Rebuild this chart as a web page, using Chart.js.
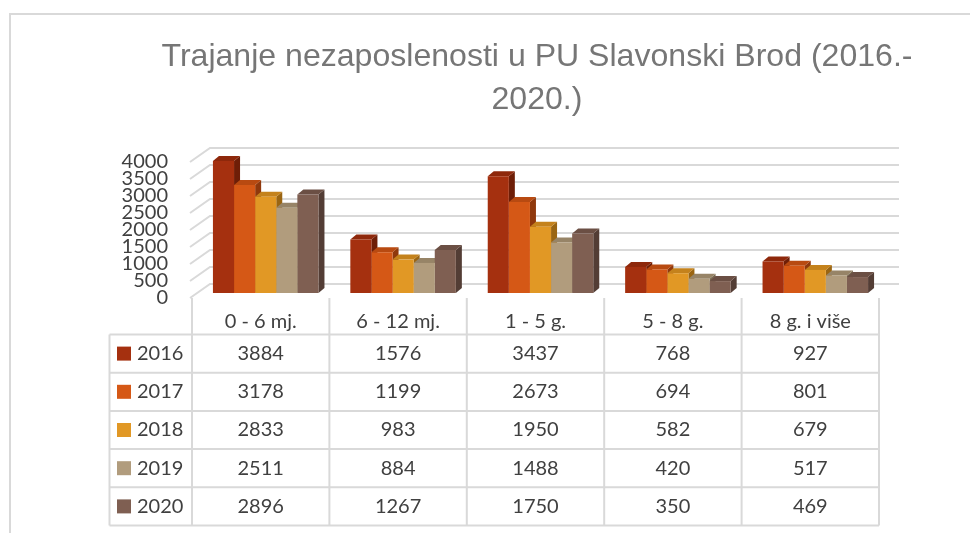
<!DOCTYPE html>
<html>
<head>
<meta charset="utf-8">
<script src="https://cdn.jsdelivr.net/npm/chart.js@4"></script>
<style>
  body { margin: 0; background: #fff; }
  canvas { display: block; }
</style>
</head>
<body>
<canvas id="myChart" width="970" height="533"></canvas>
<script>
let categories = ['0 - 6 mj.', '6 - 12 mj.', '1 - 5 g.', '5 - 8 g.', '8 g. i više'];
let years = ['2016', '2017', '2018', '2019', '2020'];
let data2016 = [3884, 1576, 3437, 768, 927];
let data2017 = [3178, 1199, 2673, 694, 801];
let data2018 = [2833, 983, 1950, 582, 679];
let data2019 = [2511, 884, 1488, 420, 517];
let data2020 = [2896, 1267, 1750, 350, 469];
let yTicks = [0, 500, 1000, 1500, 2000, 2500, 3000, 3500, 4000];
let titleLines = ['Trajanje nezaposlenosti u PU Slavonski Brod (2016.-', '2020.)'];

let seriesData = [data2016, data2017, data2018, data2019, data2020];
let frontColors = ['#A5300F', '#D55816', '#E19825', '#B19C7D', '#7F5F52'];
let topColors = ['#8E280B', '#B84A11', '#C4821C', '#978467', '#6B4F44'];
let sideColors = ['#6E1E07', '#8F380C', '#9A6512', '#7A6A52', '#533D35'];

const LINE = '#d9d9d9';
const TEXT = '#404040';
const DX = 6, DY = 5;          // depth of the bars
const WX = 20, WUP = 9, WDN = 5; // depth of the walls
const FONT = '20px Lato';

let rowTop = 334.5, rowH = 38.2;

let threeD = {
  id: 'threeD',
  beforeDatasetsDraw(chart) {
    let ctx = chart.ctx;
    let y = chart.scales.y;
    let left = chart.scales.x.left - 7;
    ctx.save();
    ctx.strokeStyle = LINE;
    ctx.lineWidth = 2;
    yTicks.forEach(t => {
      let py = y.getPixelForValue(t);
      ctx.beginPath();
      ctx.moveTo(left, py + WDN);
      ctx.lineTo(left + WX, py - WUP);
      ctx.lineTo(899, py - WUP);
      ctx.stroke();
    });
    // tops and sides of the bars, fronts are drawn by chart.js
    chart.data.datasets.forEach((ds, i) => {
      chart.getDatasetMeta(i).data.forEach(bar => {
        let p = bar.getProps(['x', 'y', 'base', 'width'], true);
        let l = p.x - p.width / 2, r = p.x + p.width / 2;
        ctx.fillStyle = sideColors[i];
        ctx.beginPath();
        ctx.moveTo(r, p.y);
        ctx.lineTo(r + DX, p.y - DY);
        ctx.lineTo(r + DX, p.base - DY);
        ctx.lineTo(r, p.base);
        ctx.closePath();
        ctx.fill();
        ctx.fillStyle = topColors[i];
        ctx.beginPath();
        ctx.moveTo(l, p.y);
        ctx.lineTo(r, p.y);
        ctx.lineTo(r + DX, p.y - DY);
        ctx.lineTo(l + DX, p.y - DY);
        ctx.closePath();
        ctx.fill();
      });
    });
    ctx.restore();
  },
  afterDraw(chart) {
    let ctx = chart.ctx;
    let x = chart.scales.x;
    let y = chart.scales.y;
    ctx.save();

    // frame
    ctx.strokeStyle = LINE;
    ctx.lineWidth = 2;
    ctx.beginPath();
    ctx.moveTo(10, 533);
    ctx.lineTo(10, 14);
    ctx.lineTo(970, 14);
    ctx.stroke();

    // title, squeezed to the width it has in the picture
    ctx.fillStyle = '#767676';
    ctx.font = '32px "Liberation Sans"';
    ctx.textAlign = 'center';
    ctx.textBaseline = 'alphabetic';
    let w1 = ctx.measureText(titleLines[0]).width;
    let sx = 751 / w1;
    ctx.save();
    ctx.translate(537, 0);
    ctx.scale(sx, 1);
    ctx.fillText(titleLines[0], 0, 66);
    ctx.fillText(titleLines[1], 0, 109);
    ctx.restore();

    // y labels
    ctx.fillStyle = TEXT;
    ctx.font = FONT;
    ctx.textAlign = 'right';
    ctx.textBaseline = 'middle';
    yTicks.forEach(t => {
      ctx.fillText(String(t), 168, y.getPixelForValue(t) + WDN);
    });

    // data table
    let colW = (x.right - x.left) / categories.length;
    let colX = [];
    for (let k = 0; k <= categories.length; k++) colX.push(x.left - 5 + k * colW);
    let tableL = 109.5;
    let tableB = rowTop + rowH * years.length;
    ctx.strokeStyle = LINE;
    ctx.lineWidth = 2;
    ctx.beginPath();
    colX.forEach(cx => { ctx.moveTo(cx, 298); ctx.lineTo(cx, tableB); });
    ctx.moveTo(tableL, rowTop); ctx.lineTo(tableL, tableB);
    for (let r = 0; r <= years.length; r++) {
      ctx.moveTo(tableL, rowTop + r * rowH);
      ctx.lineTo(colX[colX.length - 1], rowTop + r * rowH);
    }
    ctx.stroke();

    ctx.fillStyle = TEXT;
    ctx.textAlign = 'center';
    ctx.textBaseline = 'middle';
    categories.forEach((c, k) => {
      ctx.fillText(c, (colX[k] + colX[k + 1]) / 2, 322);
    });
    years.forEach((yr, r) => {
      let cy = rowTop + r * rowH + rowH / 2;
      ctx.fillStyle = frontColors[r];
      ctx.fillRect(117, cy - 7, 14, 14);
      ctx.fillStyle = TEXT;
      ctx.textAlign = 'left';
      ctx.fillText(yr, 137, cy);
      ctx.textAlign = 'center';
      seriesData[r].forEach((v, k) => {
        ctx.fillText(String(v), (colX[k] + colX[k + 1]) / 2, cy);
      });
    });
    ctx.restore();
  }
};

let chart = new Chart(document.getElementById('myChart').getContext('2d'), {
  type: 'bar',
  data: {
    labels: categories,
    datasets: years.map((yr, i) => ({
      label: yr,
      data: seriesData[i],
      backgroundColor: frontColors[i],
      borderWidth: 0,
      categoryPercentage: 0.768,
      barPercentage: 1.0
    }))
  },
  options: {
    responsive: false,
    animation: false,
    layout: { padding: { left: 197, right: 86, top: 157, bottom: 240 } },
    scales: {
      x: { display: false },
      y: { display: false, min: 0, max: 4000 }
    },
    plugins: {
      legend: { display: false },
      title: { display: false },
      tooltip: { enabled: false }
    }
  },
  plugins: [threeD]
});
</script>
</body>
</html>
